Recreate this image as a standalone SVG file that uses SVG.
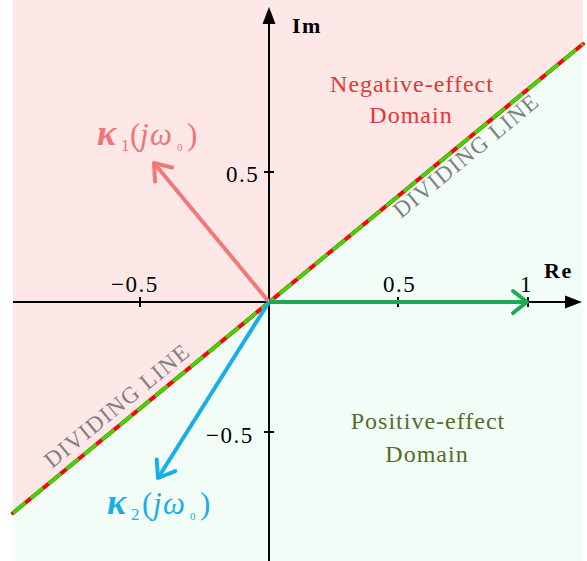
<svg xmlns="http://www.w3.org/2000/svg" width="587" height="561" viewBox="0 0 587 561">
<style>
.num{font-family:"Liberation Serif","Times New Roman",serif;font-size:23px;fill:#000;letter-spacing:1.5px}
.ax{font-family:"Liberation Serif","Times New Roman",serif;font-size:22px;font-weight:bold;fill:#000;letter-spacing:1.5px}
.dom{font-family:"Liberation Serif","Times New Roman",serif;font-size:24px;letter-spacing:1px;text-anchor:middle}
.div{font-family:"Liberation Serif","Times New Roman",serif;font-size:23px;fill:#808080;letter-spacing:1.3px}
.k{font-family:"Liberation Serif","Times New Roman",serif;font-size:31px}
.tick{stroke:#000;stroke-width:2}
</style>
<defs>
<marker id="mg" markerUnits="userSpaceOnUse" markerWidth="40" markerHeight="40" viewBox="-20 -20 40 40" refX="0" refY="0" orient="auto" overflow="visible"><path d="M-14,-11 L0,0 L-14,11" fill="none" stroke="#1eaa50" stroke-width="4" stroke-linecap="round" stroke-linejoin="round"/></marker>
<marker id="mr" markerUnits="userSpaceOnUse" markerWidth="40" markerHeight="40" viewBox="-20 -20 40 40" refX="0" refY="0" orient="auto" overflow="visible"><path d="M-15,-11 L0,0 L-15,11" fill="none" stroke="#f07a7a" stroke-width="4" stroke-linecap="round" stroke-linejoin="round"/></marker>
<marker id="mb" markerUnits="userSpaceOnUse" markerWidth="40" markerHeight="40" viewBox="-20 -20 40 40" refX="0" refY="0" orient="auto" overflow="visible"><path d="M-15,-11 L0,0 L-15,11" fill="none" stroke="#1aaee6" stroke-width="4" stroke-linecap="round" stroke-linejoin="round"/></marker>
</defs>
<g id="background">
<polygon points="13,0 583,0 583,44 13,513" fill="#fee7e7"/>
<polygon points="13,513 583,44 583,561 13,561" fill="#f3fdf8"/>
</g>
<g id="dividing-line">
<line x1="13" y1="513" x2="583" y2="44" stroke="#ff0000" stroke-width="4" stroke-linecap="round"/>
<line x1="13" y1="513" x2="583" y2="44" stroke="#33dd00" stroke-width="3.5" stroke-dasharray="16 7"/>
<text class="div" transform="translate(401,219) rotate(-39.4)">DIVIDING LINE</text>
<text class="div" transform="translate(52,469) rotate(-39.4)">DIVIDING LINE</text>
</g>
<g id="axes">
<line x1="13" y1="302" x2="568" y2="302" stroke="#000" stroke-width="2"/>
<polygon points="582,302 565,295.5 565,308.5" fill="#000"/>
<line x1="269" y1="561" x2="269" y2="20" stroke="#000" stroke-width="2"/>
<polygon points="269,7 262.5,24 275.5,24" fill="#000"/>
<line class="tick" x1="140" y1="297" x2="140" y2="307"/>
<line class="tick" x1="398" y1="297" x2="398" y2="307"/>
<line class="tick" x1="528" y1="297" x2="528" y2="307"/>
<line class="tick" x1="264" y1="172" x2="274" y2="172"/>
<line class="tick" x1="264" y1="432" x2="274" y2="432"/>
<text class="num" x="111" y="292">−0.5</text>
<text class="num" x="383" y="292">0.5</text>
<text class="num" x="520" y="292">1</text>
<text class="num" x="226" y="182">0.5</text>
<text class="num" x="206" y="443">−0.5</text>
<text class="ax" x="544" y="278">Re</text>
<text class="ax" x="292" y="33">Im</text>
</g>
<g id="negative-domain">
<text class="dom" fill="#e53636" x="412" y="92">Negative-effect</text>
<text class="dom" fill="#e53636" x="411" y="123">Domain</text>
</g>
<g id="positive-domain">
<text class="dom" fill="#566b2c" x="428" y="429">Positive-effect</text>
<text class="dom" fill="#566b2c" x="427" y="462">Domain</text>
</g>
<g id="connectors">
<line id="k1-arrow" x1="269" y1="302" x2="154" y2="163" stroke="#f07a7a" stroke-width="4" marker-end="url(#mr)"/>
<line id="k2-arrow" x1="269" y1="302" x2="158" y2="478" stroke="#1aaee6" stroke-width="4" marker-end="url(#mb)"/>
<line id="unit-arrow" x1="269" y1="302" x2="527" y2="302" stroke="#1eaa50" stroke-width="4" marker-end="url(#mg)"/>
</g>
<g id="k1-label">
<text class="k" fill="#f07474" y="145"><tspan x="97" font-weight="bold" font-style="italic" font-size="36">κ</tspan><tspan x="121" y="151" font-size="17">1</tspan><tspan x="130" y="145">(</tspan><tspan x="140" font-style="italic">j</tspan><tspan x="150" font-style="italic">ω</tspan><tspan x="177" y="151" font-size="11">0</tspan><tspan x="187" y="145">)</tspan></text>
</g>
<g id="k2-label">
<text class="k" fill="#1aaee6" y="514"><tspan x="107" font-weight="bold" font-style="italic" font-size="36">κ</tspan><tspan x="131" y="520" font-size="17">2</tspan><tspan x="142" y="514">(</tspan><tspan x="153" font-style="italic">j</tspan><tspan x="163" font-style="italic">ω</tspan><tspan x="190" y="520" font-size="11">0</tspan><tspan x="200" y="514">)</tspan></text>
</g>
</svg>
